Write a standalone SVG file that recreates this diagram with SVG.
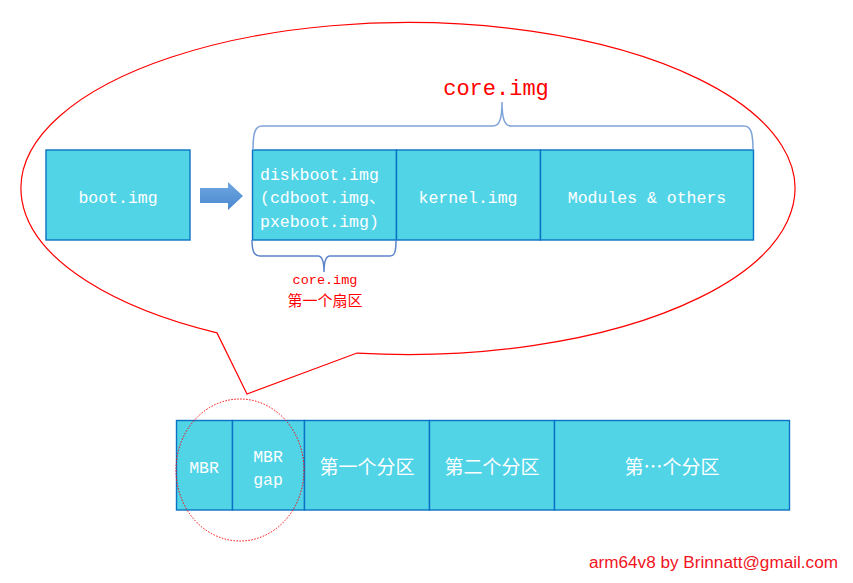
<svg xmlns="http://www.w3.org/2000/svg" width="853" height="583" viewBox="0 0 853 583">
<style>
.box{fill:#52D4E7;stroke:#0A72C4;stroke-width:1.4}
.t{font-family:"Liberation Mono","Noto Sans CJK SC",monospace;fill:#FFFFFF;font-size:16.5px}
.c{font-family:"Noto Sans CJK SC",sans-serif;fill:#FFFFFF;font-size:19px;text-anchor:middle}
.red{fill:#FF0000}
.brace{fill:none;stroke:#7FA3D9;stroke-width:1.5}
</style>
<defs>
<linearGradient id="ag" x1="0" y1="0" x2="0" y2="1">
<stop offset="0" stop-color="#6FA7E2"/>
<stop offset="1" stop-color="#4A88CF"/>
</linearGradient>
</defs>
<g id="callout">
<path d="M217,332.88 A387,166 0 1 1 357,353.05 L247,394 Z" fill="none" stroke="#FF0000" stroke-width="1.2"/>
</g>
<g id="boot">
<rect class="box" x="46" y="150" width="144" height="90"/>
<text class="t" x="118" y="203" text-anchor="middle">boot.img</text>
</g>
<g id="arrow">
<path d="M200,188 L228,188 L228,182 L243,196 L228,210 L228,203 L200,203 Z" fill="url(#ag)"/>
</g>
<g id="diskboot">
<rect class="box" x="252.5" y="150" width="144" height="90"/>
<text class="t" x="260" y="180">diskboot.img</text>
<text class="t" x="260" y="203">(cdboot.img、</text>
<text class="t" x="260" y="227">pxeboot.img)</text>
</g>
<g id="kernel">
<rect class="box" x="396.5" y="150" width="144" height="90"/>
<text class="t" x="468" y="203" text-anchor="middle">kernel.img</text>
</g>
<g id="modules">
<rect class="box" x="540.5" y="150" width="213" height="90"/>
<text class="t" x="647" y="203" text-anchor="middle">Modules &amp; others</text>
</g>
<g id="braces">
<path class="brace" d="M253,150 C253,133 255,126 262,126 L493,126 C499,126 502,120 502,102 C502,120 505,126 511,126 L744,126 C751,126 753,133 753,150"/>
<path class="brace" style="stroke:#5B84C8" d="M252,240 C252,251 254,256 260,256 L318,256 C322,256 324,260 324,272 C324,260 326,256 330,256 L390,256 C395,256 396,251 396,240"/>
</g>
<g id="labels">
<text x="496" y="95" font-family="Liberation Mono, monospace" font-size="22" text-anchor="middle" class="red">core.img</text>
<text x="325" y="284" font-family="Liberation Mono, monospace" font-size="13.5" text-anchor="middle" class="red">core.img</text>
<text x="325" y="306" font-family="Noto Sans CJK SC, sans-serif" font-size="15" text-anchor="middle" class="red">第一个扇区</text>
</g>
<g id="mbr">
<rect class="box" x="176.5" y="420.5" width="56" height="89.5"/>
<text class="t" x="204" y="473" text-anchor="middle" font-size="16">MBR</text>
</g>
<g id="mbrgap">
<rect class="box" x="232.5" y="420.5" width="72" height="89.5"/>
<text class="t" x="268" y="462" text-anchor="middle">MBR</text>
<text class="t" x="268" y="485" text-anchor="middle">gap</text>
</g>
<g id="p1">
<rect class="box" x="304.5" y="420.5" width="125" height="89.5"/>
<text class="c" x="367" y="474">第一个分区</text>
</g>
<g id="p2">
<rect class="box" x="429.5" y="420.5" width="125" height="89.5"/>
<text class="c" x="492" y="474">第二个分区</text>
</g>
<g id="pn">
<rect class="box" x="554.5" y="420.5" width="235" height="89.5"/>
<text class="c" x="672" y="474">第…个分区</text>
</g>
<g id="highlight">
<ellipse cx="240" cy="470" rx="64" ry="71" fill="none" stroke="#FF0000" stroke-width="1" stroke-dasharray="1.5 1.5"/>
</g>
<text x="589" y="568" font-family="Liberation Sans, sans-serif" font-size="16" fill="#F0141E" textLength="249" lengthAdjust="spacingAndGlyphs">arm64v8 by Brinnatt@gmail.com</text>
</svg>
